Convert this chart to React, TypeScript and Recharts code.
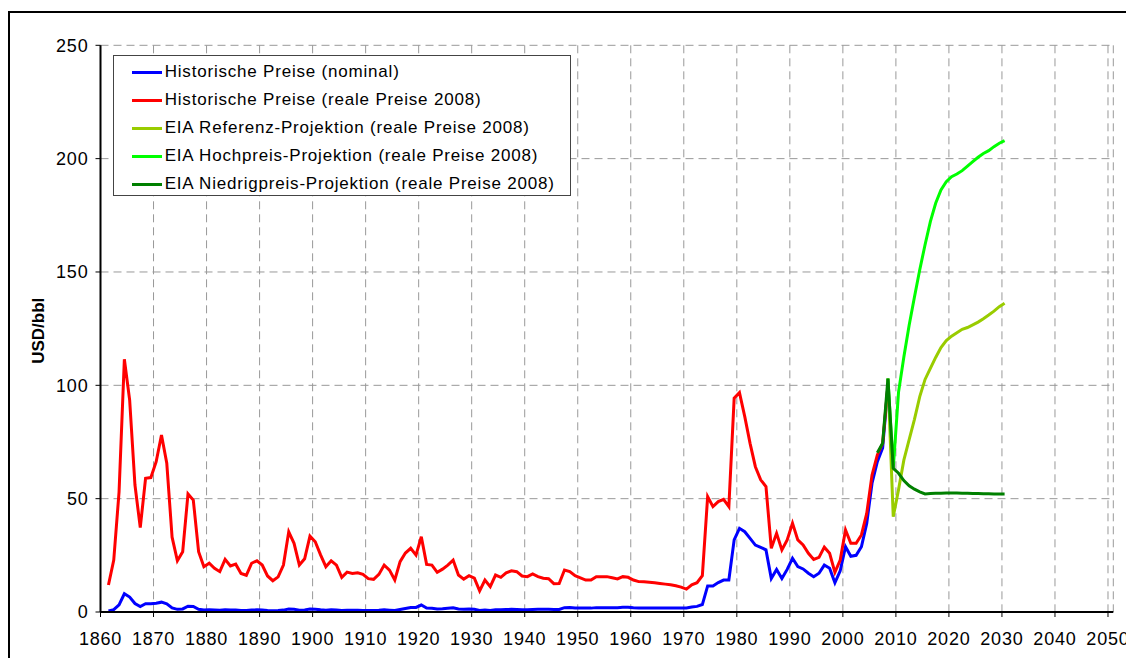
import React from 'react';
import { LineChart, Line, XAxis, YAxis, CartesianGrid, Legend } from 'recharts';

// ---- data ----
const histStartYear = 1861;
const nominalPrices = [
  0.49, 1.05, 3.15, 8.06, 6.59, 3.74, 2.41, 3.63, 3.64, 3.86,
  4.34, 3.64, 1.83, 1.17, 1.35, 2.56, 2.42, 1.19, 0.86, 0.95,
  0.86, 0.78, 1.0, 0.84, 0.88, 0.71, 0.67, 0.88, 0.94, 0.87,
  0.67, 0.56, 0.64, 0.84, 1.36, 1.18, 0.79, 0.91, 1.29, 1.19,
  0.96, 0.8, 0.94, 0.86, 0.62, 0.73, 0.72, 0.72, 0.7, 0.61,
  0.61, 0.74, 0.95, 0.81, 0.64, 1.1, 1.56, 1.98, 2.01, 3.07,
  1.73, 1.61, 1.34, 1.43, 1.68, 1.88, 1.3, 1.17, 1.27, 1.19,
  0.65, 0.87, 0.67, 1.0, 0.97, 1.09, 1.18, 1.13, 1.02, 1.02,
  1.14, 1.19, 1.2, 1.21, 1.05, 1.12, 1.9, 1.99, 1.78, 1.71,
  1.71, 1.71, 1.93, 1.93, 1.93, 1.93, 1.9, 2.08, 2.08, 1.9,
  1.8, 1.8, 1.8, 1.8, 1.8, 1.8, 1.8, 1.8, 1.8, 1.8,
  2.24, 2.48, 3.29, 11.5, 11.5, 13.0, 14.1, 14.1, 31.8, 36.9,
  35.4, 32.5, 29.5, 28.5, 27.4, 14.8, 18.8, 14.8, 18.8, 23.7,
  20.0, 19.0, 17.1, 15.6, 17.1, 20.7, 19.3, 12.9, 18.2, 28.8,
  24.6, 25.0, 28.8, 39.1, 56.8, 66.3, 72.4, 100,
];
const realPrices = [
  11.9, 22.9, 53.0, 111.5, 93.5, 56.0, 37.2, 59.0, 59.3, 66.3,
  78.1, 65.6, 33.0, 22.6, 26.6, 52.1, 49.4, 26.6, 20.0, 21.5,
  19.3, 17.8, 23.2, 20.3, 21.1, 17.0, 16.2, 21.5, 22.6, 20.7,
  15.9, 13.8, 15.5, 20.7, 35.4, 30.3, 20.7, 23.5, 33.5, 31.0,
  25.2, 20.0, 22.6, 20.7, 15.3, 17.6, 17.0, 17.3, 16.6, 14.7,
  14.4, 16.6, 20.7, 18.5, 14.1, 22.2, 26.0, 28.1, 25.1, 33.2,
  21.0, 20.7, 17.5, 18.9, 20.7, 22.9, 16.3, 14.5, 16.0, 14.9,
  9.3, 14.1, 11.2, 16.3, 15.3, 17.3, 18.2, 17.8, 15.9, 15.6,
  16.8, 15.6, 14.9, 14.7, 12.5, 12.6, 18.5, 17.8, 16.0, 15.1,
  14.1, 14.1, 15.6, 15.6, 15.6, 15.1, 14.6, 15.6, 15.3, 14.1,
  13.4, 13.3, 13.1, 12.9, 12.6, 12.3, 12.0, 11.6, 11.0, 10.1,
  12.0, 12.9, 16.0, 50.9, 46.5, 48.7, 49.7, 46.5, 94.3, 96.8,
  86.2, 74.4, 64.1, 58.3, 55.3, 28.1, 34.7, 27.4, 31.8, 39.2,
  31.8, 29.6, 25.9, 23.2, 24.1, 28.6, 25.9, 17.5, 22.9, 36.2,
  30.3, 30.3, 34.0, 43.5, 60.4, 69.3, 74.4, 100,
];
const lowStartYear = 2006;
const lowProjection = [
  70.3, 74.4, 103, 63.4, 61.2, 58, 55.7, 54.2, 53, 52.1,
  52.3, 52.4, 52.4, 52.5, 52.5, 52.5, 52.4, 52.4, 52.3, 52.3,
  52.2, 52.2, 52.1, 52.1, 52.1,
];
const projStartYear = 2008;
const refProjection = [
  103, 42, 54, 67, 76, 85, 95, 102.6,
  107.5, 112.3, 116.7, 119.7, 121.7,
  123.2, 124.7, 125.5, 126.7, 127.9,
  129.4, 131, 132.7, 134.7, 136.2,
];
const highProjection = [
  103, 63.4, 97, 112.5, 126.5, 139, 151, 162,
  172.2, 180.3, 186.2, 189.8, 192,
  193.2, 194.7, 196.7, 198.7, 200.6,
  202.3, 203.5, 205.3, 206.8, 207.9,
];
const xTicks = [1860, 1870, 1880, 1890, 1900, 1910, 1920, 1930, 1940, 1950, 1960, 1970, 1980, 1990, 2000, 2010, 2020, 2030, 2040, 2050];
const yTicks = [0, 50, 100, 150, 200, 250];

const seriesList = [
  { key: 'nominal', name: 'Historische Preise (nominal)', color: '#0000FF' },
  { key: 'real', name: 'Historische Preise (reale Preise 2008)', color: '#FF0000' },
  { key: 'ref', name: 'EIA Referenz-Projektion (reale Preise 2008)', color: '#99CC00' },
  { key: 'high', name: 'EIA Hochpreis-Projektion (reale Preise 2008)', color: '#00FF00' },
  { key: 'low', name: 'EIA Niedrigpreis-Projektion (reale Preise 2008)', color: '#008000' },
];

// build table (values plotted at mid-year)
const rows: any[] = [];
for (let y = 1861; y <= 2030; y++) {
  const row: any = { x: y + 0.5 };
  const hi = y - histStartYear;
  if (hi >= 0 && hi < nominalPrices.length) row.nominal = nominalPrices[hi];
  if (hi >= 0 && hi < realPrices.length) row.real = realPrices[hi];
  const li = y - lowStartYear;
  if (li >= 0 && li < lowProjection.length) row.low = lowProjection[li];
  const pi = y - projStartYear;
  if (pi >= 0 && pi < refProjection.length) row.ref = refProjection[pi];
  if (pi >= 0 && pi < highProjection.length) row.high = highProjection[pi];
  rows.push(row);
}

const FONT = '"Liberation Sans", Arial, sans-serif';

const LegendBox = () => (
  <div
    style={{
      width: 458,
      height: 141,
      boxSizing: 'border-box',
      border: '1px solid #444',
      background: '#fff',
      paddingTop: 2,
      fontFamily: FONT,
      fontSize: 17,
      letterSpacing: '0.8px',
      color: '#000',
    }}
  >
    {seriesList.map((s) => (
      <div key={s.key} style={{ height: 28, display: 'flex', alignItems: 'center', whiteSpace: 'nowrap' }}>
        <div style={{ marginLeft: 18, width: 30, height: 3, background: s.color }} />
        <span style={{ marginLeft: 3 }}>{s.name}</span>
      </div>
    ))}
  </div>
);

const YLabel = () => (
  <text
    x={30.3}
    y={322.8}
    transform="rotate(-90 30.3 322.8)"
    textAnchor="middle"
    dominantBaseline="central"
    style={{ fontFamily: FONT, fontSize: 17, fontWeight: 'bold', letterSpacing: 0 }}
    fill="#000"
  >
    USD/bbl
  </text>
);

export default function App() {
  return (
    <div style={{ position: 'relative', width: 1126, height: 650 }}>
      <div
        style={{
          position: 'absolute',
          left: 0,
          top: 3,
          width: 1126,
          height: 647,
          boxSizing: 'border-box',
          borderLeft: '2px solid #000',
          borderTop: '2px solid #000',
          pointerEvents: 'none',
        }}
      />
      <LineChart
        width={1126}
        height={650}
        data={rows}
        margin={{ top: 37.3, right: 20.7, bottom: 6, left: 0 }}
        style={{ fontFamily: FONT, letterSpacing: '0.8px' }}
      >
        <CartesianGrid stroke="#999" strokeDasharray="8 5" strokeWidth={1} />
        <XAxis
          dataKey="x"
          type="number"
          domain={[1860, 2051]}
          ticks={xTicks}
          interval={0}
          allowDataOverflow
          height={40}
          tickSize={5}
          tickMargin={15}
          axisLine={{ stroke: '#000', strokeWidth: 2 }}
          tickLine={{ stroke: '#000', strokeWidth: 1 }}
          tick={{ fontSize: 18, fill: '#000', fontFamily: FONT }}
        />
        <XAxis
          xAxisId="top"
          dataKey="x"
          type="number"
          orientation="top"
          domain={[1860, 2051]}
          height={0}
          tick={false}
          tickLine={false}
          axisLine={{ stroke: '#000', strokeWidth: 2 }}
        />
        <YAxis
          type="number"
          domain={[0, 250]}
          ticks={yTicks}
          interval={0}
          width={92.5}
          tickSize={5}
          tickMargin={7}
          axisLine={{ stroke: '#000', strokeWidth: 2 }}
          tickLine={{ stroke: '#000', strokeWidth: 1 }}
          tick={{ fontSize: 18, fill: '#000', fontFamily: FONT }}
          label={<YLabel />}
        />
        <YAxis
          yAxisId="right"
          orientation="right"
          type="number"
          domain={[0, 250]}
          width={0}
          tick={false}
          tickLine={false}
          axisLine={{ stroke: '#000', strokeWidth: 2 }}
        />
        {seriesList.map((s) => (
          <Line
            key={s.key}
            type="linear"
            dataKey={s.key}
            name={s.name}
            stroke={s.color}
            strokeWidth={3}
            dot={false}
            activeDot={false}
            isAnimationActive={false}
          />
        ))}
        <Legend
          layout="vertical"
          align="center"
          verticalAlign="middle"
          content={<LegendBox />}
          wrapperStyle={{ position: 'absolute', left: 104.7, top: 47, width: 458, height: 141 }}
        />
      </LineChart>
    </div>
  );
}
